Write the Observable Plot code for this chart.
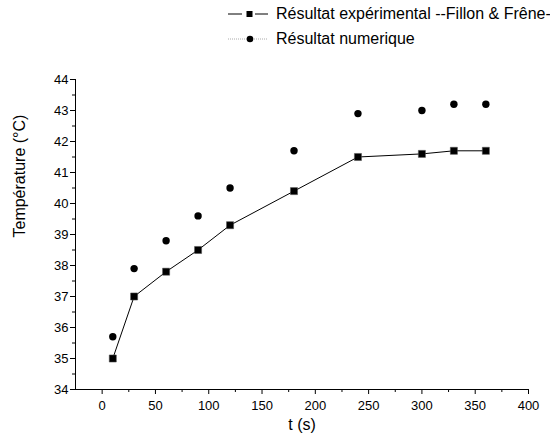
<!DOCTYPE html>
<html>
<head>
<meta charset="utf-8">
<script src="https://cdn.jsdelivr.net/npm/d3@7"></script>
<script src="https://cdn.jsdelivr.net/npm/@observablehq/plot@0.6"></script>
<style>
  body { margin: 0; background: white; }
  #wrap { position: relative; width: 550px; height: 443px; font-family: "Liberation Sans", Arial, sans-serif; }
  #legend { position: absolute; left: 228px; top: 1px; font-size: 16px; color: black; white-space: nowrap; }
  .row { display: flex; align-items: center; height: 25px; }
  .row svg { margin-right: 8px; }
</style>
</head>
<body>
<div id="wrap">
  <div id="chart"></div>
  <div id="legend"></div>
</div>
<script>
const times = [10, 30, 60, 90, 120, 180, 240, 300, 330, 360];
const tempExp = [35.0, 37.0, 37.8, 38.5, 39.3, 40.4, 41.5, 41.6, 41.7, 41.7];
const tempNum = [35.7, 37.9, 38.8, 39.6, 40.5, 41.7, 42.9, 43.0, 43.2, 43.2];
const seriesNames = ["Résultat expérimental --Fillon & Frêne-", "Résultat numerique"];
const xMajor = [0, 50, 100, 150, 200, 250, 300, 350, 400];
const xMinor = [25, 75, 125, 175, 225, 275, 325, 375];
const yMajor = [34, 35, 36, 37, 38, 39, 40, 41, 42, 43, 44];
const yMinor = [34.5, 35.5, 36.5, 37.5, 38.5, 39.5, 40.5, 41.5, 42.5, 43.5];
const xLabel = "t (s)";
const yLabel = "Température (°C)";

const expData = times.map((t, i) => ({t, temp: tempExp[i]}));
const numData = times.map((t, i) => ({t, temp: tempNum[i]}));

const plot = Plot.plot({
  width: 550,
  height: 443,
  marginLeft: 75,
  marginRight: 22,
  marginTop: 79,
  marginBottom: 54,
  style: {fontFamily: "'Liberation Sans', Arial, sans-serif", fontSize: "13px", color: "black", background: "white", overflow: "visible"},
  x: {domain: [-25, 400]},
  y: {domain: [34, 44]},
  marks: [
    Plot.axisX(xMajor, {tickSize: 5, tickPadding: 6, label: null, tickFormat: d => d, fontSize: 13}),
    Plot.axisX(xMinor, {tickSize: 3, label: null, tickFormat: () => ""}),
    Plot.axisY(yMajor, {tickSize: 5, tickPadding: 2, label: null, tickFormat: d => d, fontSize: 13}),
    Plot.axisY(yMinor, {tickSize: 3, label: null, tickFormat: () => ""}),
    Plot.ruleY([34], {stroke: "black", strokeWidth: 1}),
    Plot.ruleX([-25], {stroke: "black", strokeWidth: 1}),
    Plot.text([xLabel], {frameAnchor: "bottom", dy: 40, fontSize: 16, fill: "black"}),
    Plot.text([yLabel], {frameAnchor: "left", dx: -56, dy: 3, rotate: -90, fontSize: 16, fill: "black"}),
    Plot.line(expData, {x: "t", y: "temp", stroke: "black", strokeWidth: 1}),
    Plot.dot(expData, {x: "t", y: "temp", symbol: "square", fill: "black", stroke: "#555", strokeWidth: 0.5, r: 4}),
    Plot.dot(numData, {x: "t", y: "temp", symbol: "circle", fill: "black", r: 3.7})
  ]
});
document.getElementById("chart").appendChild(plot);

const legend = document.getElementById("legend");
legend.innerHTML = `
  <div class="row">
    <svg width="40" height="14"><line x1="0" x2="14" y1="7" y2="7" stroke="black" stroke-width="1"/><line x1="27" x2="40" y1="7" y2="7" stroke="black" stroke-width="1"/><rect x="18.5" y="4" width="6" height="6" fill="black"/></svg>
    <span>${seriesNames[0]}</span>
  </div>
  <div class="row">
    <svg width="40" height="14"><line x1="0" x2="40" y1="7" y2="7" stroke="#aaa" stroke-width="1" stroke-dasharray="1,1"/><circle cx="22" cy="7" r="3.3" fill="black"/></svg>
    <span>${seriesNames[1]}</span>
  </div>`;
</script>
</body>
</html>
